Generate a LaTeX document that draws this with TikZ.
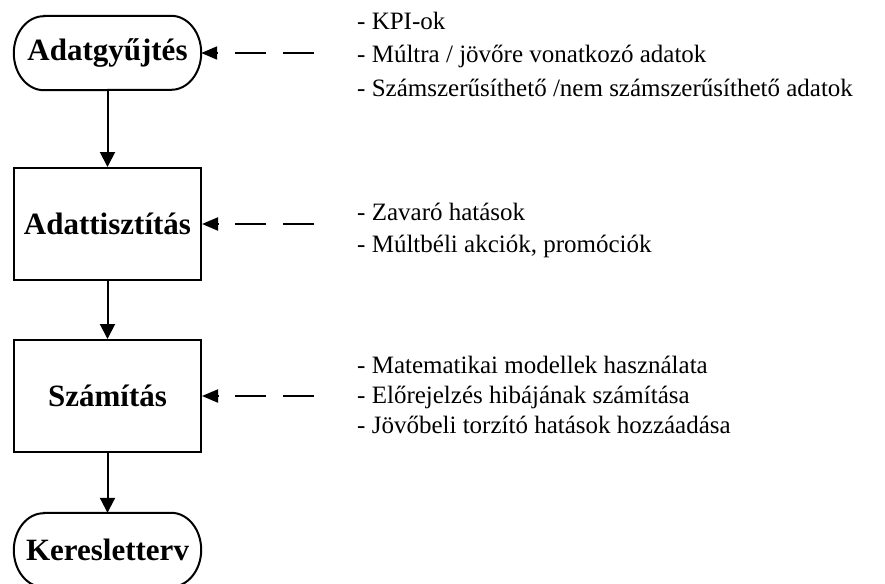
\documentclass[tikz,border=0pt]{standalone}
\usepackage{fontspec}
\setmainfont{Liberation Serif}
\usetikzlibrary{arrows.meta}

\tikzset{
  stepbox/.style={draw, line width=2pt, minimum width=187pt, minimum height=112pt,
    inner sep=0pt, font=\fontsize{31}{37}\selectfont\bfseries},
  terminal/.style={minimum width=187pt, minimum height=74pt, inner sep=0pt,
    font=\fontsize{31}{37}\selectfont\bfseries},
  note/.style={anchor=base west, inner sep=0pt, font=\fontsize{25}{30}\selectfont},
  flow/.style={line width=2pt, -{Triangle[length=15pt, width=15pt]}},
  feed/.style={line width=2pt, dash pattern=on 31pt off 17pt,
    -{Triangle[length=16pt, width=13pt]}},
}

% draws a terminator outline with elliptical ends around a node
\newcommand{\termoutline}[1]{%
  \draw[line width=2pt]
    ([xshift=30pt]#1.north west) -- ([xshift=-30pt]#1.north east)
    arc[start angle=90, end angle=-90, x radius=30pt, y radius=37pt]
    -- ([xshift=30pt]#1.south west)
    arc[start angle=270, end angle=90, x radius=30pt, y radius=37pt]
    -- cycle;}

\begin{document}
\begin{tikzpicture}[x=1pt, y=-1pt]
  \useasboundingbox (0,0) rectangle (885,583);

  % process chain
  \node[terminal] (gyujt)  at (107.5,53)  {Adatgyűjtés};
  \node[stepbox]  (tiszt)  at (107.5,224) {Adattisztítás};
  \node[stepbox]  (szamit) at (107.5,396) {Számítás};
  \node[terminal] (terv)   at (107.5,550) {Keresletterv};
  \termoutline{gyujt}
  \termoutline{terv}

  \draw[flow] (gyujt) -- (tiszt);
  \draw[flow] (tiszt) -- (szamit);
  \draw[flow] (szamit) -- (terv);

  % inputs of each step
  \node[note] (a1) at (357,30) {- KPI-ok};
  \node[note] (a2) at (357,63) {- Múltra / jövőre vonatkozó adatok};
  \node[note] (a3) at (357,97) {- Számszerűsíthető /nem számszerűsíthető adatok};

  \node[note] (b1) at (357,220) {- Zavaró hatások};
  \node[note] (b2) at (357,252) {- Múltbéli akciók, promóciók};

  \node[note] (c1) at (357,373) {- Matematikai modellek használata};
  \node[note] (c2) at (357,403) {- Előrejelzés hibájának számítása};
  \node[note] (c3) at (357,433) {- Jövőbeli torzító hatások hozzáadása};

  \coordinate (fa) at (314,53);
  \coordinate (fb) at (314,224);
  \coordinate (fc) at (314,396);
  \draw[feed] (fa) -- (gyujt.east);
  \draw[feed] (fb) -- (tiszt.east);
  \draw[feed] (fc) -- (szamit.east);
\end{tikzpicture}
\end{document}
